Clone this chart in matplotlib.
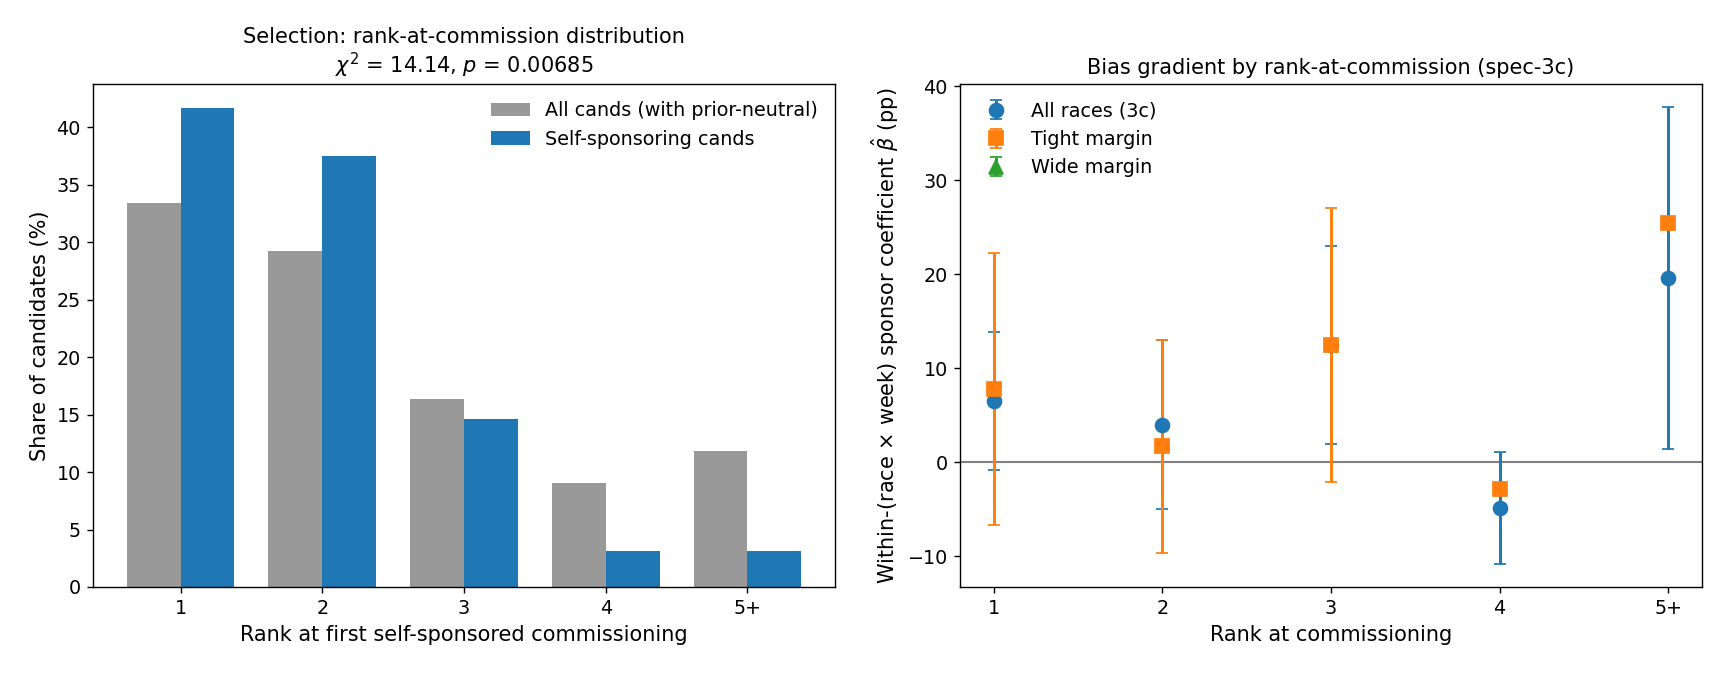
import numpy as np
import matplotlib
matplotlib.use('Agg')
import matplotlib.pyplot as plt

plt.rcParams['font.size'] = 11

ranks = ['1', '2', '3', '4', '5+']

# left panel: share of candidates (%)
all_cands = [33.38, 29.23, 16.37, 9.08, 11.85]
self_spons = [41.67, 37.5, 14.58, 3.125, 3.125]

# right panel: coefficient estimates and half-width of CI (pp)
all_beta = [6.5, 4.0, 12.45, -4.9, 19.6]
all_err = [7.3, 9.0, 10.55, 5.95, 18.2]
tight_beta = [7.77, 1.67, 12.43, -2.88, 25.4]
tight_err = [14.5, 11.36, 14.56, np.nan, np.nan]
wide_beta = [np.nan] * 5
wide_err = [np.nan] * 5

fig = plt.figure(figsize=(13.8, 5.4), dpi=125)
ax1 = fig.add_axes([93 / 1725, 1 - 587 / 675, 742 / 1725, 503 / 675])
ax2 = fig.add_axes([960 / 1725, 1 - 587 / 675, 742 / 1725, 503 / 675])

x = np.arange(len(ranks))
w = 0.38
ax1.bar(x - w / 2, all_cands, w, color='#999999', label='All cands (with prior-neutral)')
ax1.bar(x + w / 2, self_spons, w, color='#1f77b4', label='Self-sponsoring cands')
ax1.set_xticks(x)
ax1.set_xticklabels(ranks)
ax1.set_xlabel('Rank at first self-sponsored commissioning', fontsize=12)
ax1.set_ylabel('Share of candidates (%)', fontsize=12)
ax1.set_title('Selection: rank-at-commission distribution\n$\\chi^2$ = 14.14, $p$ = 0.00685', fontsize=12)
ax1.legend(frameon=False)

ax2.axhline(0, color='gray', lw=1.2)
ax2.errorbar(x, all_beta, yerr=all_err, fmt='o', ms=8, color='#1f77b4', capsize=3.5, elinewidth=1.7, label='All races (3c)')
ax2.errorbar(x, tight_beta, yerr=tight_err, fmt='s', ms=8, color='#ff7f0e', capsize=3.5, elinewidth=1.7, label='Tight margin')
ax2.errorbar(x, wide_beta, yerr=wide_err, fmt='^', ms=8, color='#2ca02c', capsize=3.5, elinewidth=1.7, label='Wide margin')
ax2.set_xticks(x)
ax2.set_xticklabels(ranks)
ax2.set_xlabel('Rank at commissioning', fontsize=12)
ax2.set_ylabel('Within-(race $\\times$ week) sponsor coefficient $\\hat{\\beta}$ (pp)', fontsize=12)
ax2.set_title('Bias gradient by rank-at-commission (spec-3c)', fontsize=12)
ax2.legend(frameon=False, loc='upper left')

fig.savefig('out.png', dpi=125)
